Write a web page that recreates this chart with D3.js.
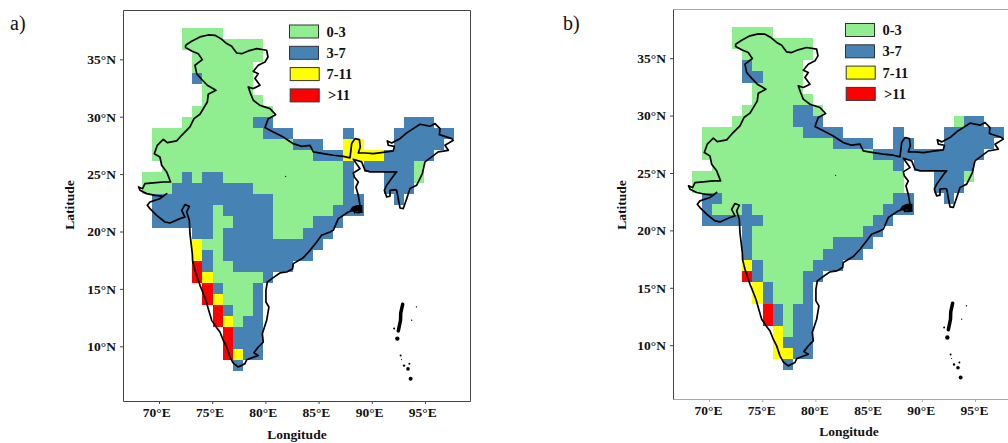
<!DOCTYPE html>
<html lang="en">
<head>
<meta charset="UTF-8">
<title>India grid maps</title>
<script src="https://d3js.org/d3.v7.min.js"></script>
<style>
    body { margin: 0; background: #fff; }
    svg { display: block; }
    text { font-family: "Liberation Serif", serif; fill: #111; }
    .bold { font-weight: bold; font-size: 13.5px; }
    .legend-label { font-weight: bold; font-size: 14.5px; }
    .axis text { font-family: "Liberation Serif", serif; font-weight: bold; font-size: 13.5px; fill: #111; }
</style>
</head>
<body>
<svg id="chart" width="1008" height="443"></svg>
<script>
// classes of the legend, the letters stand for them in the grids below
const categories = ["0-3", "3-7", "7-11", ">11"];
const codes = ["G", "B", "Y", "R"];
const colors = ["#90EE90", "#4682B4", "#FFFF00", "#FF0000"];

const lonTicks = [70, 75, 80, 85, 90, 95];
const latTicks = [35, 30, 25, 20, 15, 10];

// one string per grid row from the north, one letter per grid column from the west
const gridA = [
    "....GGGG",
    "....GGGGGGGG",
    ".....GGGGGGG",
    ".....GGGGGG",
    ".....BGGGGG",
    "......GGGGG",
    "......GGGGGG",
    ".....GGGGGGGG",
    "....GGGGGGGBB.............BBB",
    ".GGGGGGGGGGGBBB.....B....BBBBBB",
    ".GGGGGGGGGGGGGGBBB..YY...BBBBB",
    ".GGGGGGGGGGGGGGGGBBBYYYYBBBBB",
    "..GGGGGGGGGGGGGGGGGGB.BBBBBG",
    "GGGGBGBBGGGGGGGGGGGGB...BBBG",
    "GGGBBBBBBBBGGGGGGGGGB...BBB",
    ".BBBBBBBBBBBBGGGGGGGBB...B",
    ".BBBBBBGBBBBBGGGGGGBBB",
    ".BBBBBBGGBBBBGGGGBBB",
    ".....BBGBBBBBGGGBBB",
    ".....YGGBBBBBBBBBB",
    ".....YBGBBBBBBBBB",
    ".....RBGGBBBBBB",
    ".....RYGGGGGB",
    "......RBGGGB",
    "......RYGGGB",
    ".......RBGGB",
    ".......RYGBB",
    "........RBBB",
    "........RBBB",
    "........RYBB",
    ".........B"
];

const gridB = [
    "....GGGG",
    "....GGGGGGGG",
    ".....GGGGGGG",
    ".....BGGGGG",
    ".....BBGGGG",
    "......GGGGG",
    "......GGGGGG",
    ".....GGGGGBBG",
    "....GGGGGGBBB.............GBB",
    ".GGGGGGGGGGBBBB.....B....BBBBBB",
    ".GGGGGGGGGGGGGBBBB..BB...BBBBB",
    ".GGGGGGGGGGGGGGGGGBBBBBBBBBBB",
    "..GGGGGGGGGGGGGGGGGGB.BBBBBB",
    "GGGGGGGGGGGGGGGGGGGGG...BBBG",
    "GGGGGGGGGGGGGGGGGGGGG...BBB",
    ".BBGGGGGGGGGGGGGGGGGBB...B",
    ".BGGGBGGGGGGGGGGGGGBBB",
    ".BBBBBBGGGGGGGGGGGBB",
    ".....BGGGGGGGGGGGBB",
    ".....BGGGGGGGGBBBB",
    ".....BGGGGGGGBBBB",
    ".....YBGGGGGBBB",
    ".....RBGGGGBB",
    "......YBGGGB",
    "......YBGGGB",
    ".......RBGBB",
    ".......RBGBB",
    "........YGBB",
    "........YBBB",
    "........YYBB",
    ".........B"
];

// grid origin and cell size in degrees
const gridLon0 = 68.4, gridLat0 = 37.7, cellLon = 0.947, cellLat = 0.964;

// national outline as [lon, lat], clockwise from the Kashmir corner
const boundary = [
    [72.5,36.22],[73.07,36.57],[73.85,36.95],[74.63,37.12],[75.26,37.09],[75.82,36.8],[76.36,36.37],[76.83,36.13],
    [77.3,35.55],[77.77,35.49],[78.39,35.73],[79.18,35.93],[80.12,35.79],[80.24,35.2],[79.96,34.77],[79.33,34.48],
    [78.86,33.95],[79.33,33.75],[79.02,33.32],[79.49,32.74],[78.86,32.45],[78.39,32.59],[78.61,32.01],[78.86,31.43],
    [79.49,30.99],[80.43,30.7],[80.96,30.18],[80.27,29.83],[79.96,29.05],[80.74,28.67],[81.68,28.23],[82.62,27.65],
    [83.4,27.42],[84.19,27.51],[84.5,26.93],[85.44,26.78],[86.38,26.64],[87.32,26.55],[87.95,26.41],[88.11,27.66],
    [88.42,28.09],[88.83,28.0],[88.92,27.37],[88.73,26.84],[89.36,26.84],[90.14,26.78],[91.08,26.9],[92.02,27.02],
    [92.12,27.42],[91.55,27.51],[91.46,27.89],[91.87,27.71],[92.65,28.09],[93.28,28.59],[94.53,29.34],[95.47,29.17],
    [95.94,29.4],[96.41,28.96],[96.35,28.44],[97.51,28.09],[97.66,27.95],[96.88,27.51],[97.19,27.07],[96.25,26.93],
    [95.0,26.06],[94.75,25.04],[94.22,24.03],[93.59,23.74],[93.28,22.86],[92.96,22.0],[92.65,22.05],[92.34,23.59],
    [92.18,23.65],[91.71,23.59],[91.71,23.07],[91.4,23.01],[91.18,23.59],[91.4,24.03],[92.18,25.04],[92.34,25.19],
    [89.83,25.19],[89.36,25.33],[89.05,26.06],[88.26,26.29],[88.89,25.47],[88.26,25.1],[88.36,24.75],[88.73,24.31],
    [88.51,23.88],[88.73,23.15],[88.89,22.28],[89.05,21.7],[88.6,21.65],[88.26,21.84],[87.79,21.7],[86.85,21.12],
    [86.38,20.1],[86.07,19.96],[85.28,19.67],[84.82,19.09],[84.2,18.36],[83.56,17.72],[82.62,17.2],[82.56,16.76],
    [82,16.47],[81.37,16.39],[80.74,15.98],[80.18,15.6],[80.05,14.88],[80.05,13.86],[80.33,13.42],[80.12,12.26],
    [79.71,11.1],[79.8,10.37],[79.33,9.94],[78.92,9.44],[79.33,9.21],[78.24,8.83],[78.08,8.49],[77.45,8.2],
    [76.98,8.54],[76.67,9.07],[76.36,9.94],[76.04,10.52],[75.73,11.25],[75.48,11.54],[74.95,12.26],[74.63,13.28],
    [74.41,14],[74.23,14.44],[74.04,14.88],[73.85,15.31],[73.38,16.62],[73.16,17.43],[73.13,18.07],[73,19.09],
    [72.91,19.81],[72.85,20.97],[72.6,21.7],[72.85,22.19],
    [72.44,22.34],[72.13,21.84],[72.44,21.26],[71.97,21.12],[71.03,20.74],[70.56,20.83],[69.78,21.41],[69.15,21.99],
    [68.9,22.28],[69.15,22.57],[70.09,22.86],[70.72,23.3],[70.4,23.06],[69.62,23.15],[68.84,23.3],[68.21,23.59],
    [68.08,23.88],[68.46,23.73],[68.68,24.17],[69.46,24.23],[70.4,24.31],[71.09,24.31],[70.72,25.19],[70.25,25.77],
    [70.09,26.49],[69.56,26.78],[69.84,27.51],[70.4,28.03],[70.78,27.74],[71.66,27.89],[72.13,28.38],[72.91,29.11],
    [73.29,29.83],[73.85,30.21],[74.54,31.28],[74.63,31.95],[75.35,32.3],[74.54,32.74],[74,33.26],[73.54,33.75],
    [73.38,34.48],[74.07,34.97],[73.69,35.49],[73.07,35.73],[72.5,36.02],[72.5,36.22]
];
const delta = [[87.95,21.75],[88.2,22.0],[88.4,21.65],[88.6,22.0],[88.8,21.65],[89.05,21.7],[89.05,22.25],[88.6,22.25],[88.2,22.1]];
const andaman = [[92.9,13.66],[92.72,12.9],[92.7,12.27],[92.49,11.34]];
const dots = [
    [92.4,10.67,2.2],[94.2,13.43,0.7],[93.75,12.27,0.7],[92.1,11.54,1],[92.71,9.19,1],[92.8,8.84,0.6],
    [93.03,8.32,1.2],[93.4,8.03,1.8],[93.53,8.49,1],[93.65,7.18,2],[81.9,24.8,0.6]
];

const svg = d3.select("#chart");

const x = d3.scaleLinear().domain([70, 95]).range([159, 425]);
const y = d3.scaleLinear().domain([35, 10]).range([59.3, 346.3]);
const line = d3.line().x(d => x(d[0])).y(d => y(d[1]));

function drawPanel(p) {
    const g = svg.append("g").attr("transform", `translate(${p.dx},${p.dy})`);

    const cells = p.grid.flatMap((row, r) => Array.from(row, (c, col) => ({ c, col, r }))).filter(d => d.c !== ".");
    g.append("g").selectAll("rect")
        .data(cells)
        .join("rect")
        .attr("x", d => x(gridLon0 + d.col * cellLon))
        .attr("y", d => y(gridLat0 - d.r * cellLat))
        .attr("width", x(gridLon0 + cellLon) - x(gridLon0))
        .attr("height", y(gridLat0 - cellLat) - y(gridLat0))
        .attr("fill", d => colors[codes.indexOf(d.c)])
        .attr("shape-rendering", "crispEdges");

    g.append("path").attr("d", line(boundary))
        .attr("fill", "none").attr("stroke", "#000").attr("stroke-width", 1.7).attr("stroke-linejoin", "round");
    g.append("path").attr("d", line(delta) + "Z").attr("fill", "#000").attr("stroke", "#000").attr("stroke-width", 1.5);
    g.append("path").attr("d", line(andaman))
        .attr("fill", "none").attr("stroke", "#000").attr("stroke-width", 3.5).attr("stroke-linecap", "round");
    g.append("g").selectAll("circle")
        .data(dots)
        .join("circle")
        .attr("cx", d => x(d[0]))
        .attr("cy", d => y(d[1]))
        .attr("r", d => d[2])
        .attr("fill", "#000");

    // axes hang off the frame, so they live in the panel group too
    g.append("g").attr("class", "axis")
        .attr("transform", `translate(0,${p.frame.bottom - p.dy})`)
        .call(d3.axisBottom(x).tickValues(lonTicks).tickSize(3).tickPadding(3).tickFormat(d => d + "°E"))
        .call(a => a.select(".domain").remove())
        .call(a => a.selectAll("line").attr("stroke", p.xStroke))
        .call(a => a.selectAll("text").attr("dx", p.tickDx));
    g.append("g").attr("class", "axis")
        .attr("transform", `translate(${p.frame.left - p.dx},0)`)
        .call(d3.axisLeft(y).tickValues(latTicks).tickSize(3).tickPadding(4).tickFormat(d => d + "°N"))
        .call(a => a.select(".domain").remove())
        .call(a => a.selectAll("line").attr("stroke", "#444"));

    // frame, the sides are not all the same grey in the source
    const f = p.frame;
    const side = (x1, y1, x2, y2, stroke) => svg.append("line")
        .attr("x1", x1 + 0.5).attr("y1", y1 + 0.5).attr("x2", x2 + 0.5).attr("y2", y2 + 0.5)
        .attr("stroke", stroke);
    side(f.left, f.top, f.right, f.top, p.xStroke);
    side(f.left, f.bottom, f.right, f.bottom, p.xStroke);
    side(f.left, f.top, f.left, f.bottom, "#444");
    side(f.right, f.top, f.right, f.bottom, "#444");

    // legend
    const leg = svg.append("g").selectAll("g")
        .data(categories)
        .join("g")
        .attr("transform", (d, i) => `translate(${p.legend.x},${p.legend.y + i * 21.3})`);
    leg.append("rect")
        .attr("x", (d, i) => i > 1 ? 0.7 : 0)
        .attr("width", 29).attr("height", 13)
        .attr("fill", (d, i) => colors[i])
        .attr("stroke", "#333").attr("stroke-width", 1);
    leg.append("text")
        .attr("class", "legend-label")
        .attr("x", (d, i) => i === 3 ? 38.5 : 37)
        .attr("y", 11.5)
        .text(d => d);

    svg.append("text").attr("class", "bold")
        .attr("x", p.xTitle.x).attr("y", p.xTitle.y)
        .attr("text-anchor", "middle").text("Longitude");
    svg.append("text").attr("class", "bold")
        .attr("transform", `translate(${p.yTitle.x},${p.yTitle.y}) rotate(-90)`)
        .attr("text-anchor", "middle").text("Latitude");
    svg.append("text")
        .attr("x", p.tag.x).attr("y", p.tag.y)
        .attr("font-size", 20).text(p.tag.text);
}

drawPanel({
    grid: gridA, dx: 0, dy: 0, tickDx: -2.7, xStroke: "#444",
    frame: { left: 123, top: 10, right: 470, bottom: 401 },
    legend: { x: 289.5, y: 25 },
    xTitle: { x: 297, y: 439 }, yTitle: { x: 74, y: 205 },
    tag: { x: 10, y: 30, text: "a)" }
});
drawPanel({
    grid: gridB, dx: 550, dy: -1.1, tickDx: -1, xStroke: "#aaa",
    frame: { left: 673, top: 9, right: 1012, bottom: 399 },
    legend: { x: 845.5, y: 23.5 },
    xTitle: { x: 849, y: 436 }, yTitle: { x: 626, y: 205 },
    tag: { x: 563, y: 30, text: "b)" }
});
</script>
</body>
</html>
